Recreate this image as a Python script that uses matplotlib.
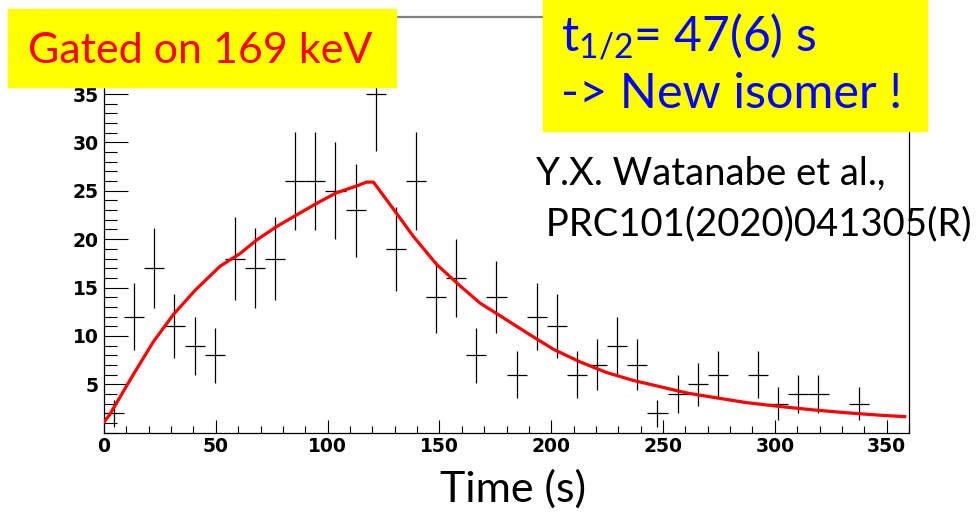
import numpy as np
import matplotlib
matplotlib.use('Agg')
import matplotlib.pyplot as plt
import matplotlib.patches as ptc
from matplotlib.ticker import MultipleLocator, FixedLocator

# histogram: counts per 9 s bin, 0 -> 360 s
bin_width = 9
counts = [2, 12, 17, 11, 9, 8, 18, 17, 18, 26,
          26, 25, 23, 35, 19, 26, 14, 16, 8, 14,
          6, 12, 11, 6, 7, 9, 7, 2, 4, 5,
          6, 0, 6, 3, 4, 4, 0, 3, 0, 0]

# fitted growth + decay curve
fit_t = [0, 2.4, 13.1, 22.1, 31.0, 40.7, 51.9, 60.8, 68.2, 77.2,
         86.1, 95.1, 104.0, 113.0, 117.5, 120.5, 130.1, 138.3, 148.7, 159.1,
         168.1, 177.0, 189.2, 201.1, 213.0, 224.9, 236.6, 248.6, 260.5, 272.4,
         287.3, 302.2, 317.1, 332.0, 346.9, 358.1]
fit_y = [1.1, 1.8, 6.0, 9.4, 12.2, 14.7, 17.2, 18.5, 19.9, 21.3,
         22.5, 23.7, 24.8, 25.5, 25.9, 25.9, 22.9, 20.3, 17.4, 15.2,
         13.4, 12.1, 10.3, 8.6, 7.3, 6.2, 5.4, 4.75, 4.1, 3.65,
         3.1, 2.7, 2.35, 2.05, 1.8, 1.65]

x_ticks = [0, 50, 100, 150, 200, 250, 300, 350]
y_ticks = [5, 10, 15, 20, 25, 30, 35]

plt.rcParams['font.family'] = ['Lato', 'DejaVu Sans']
plt.rcParams['mathtext.fontset'] = 'custom'
plt.rcParams['mathtext.rm'] = 'Lato'
plt.rcParams['mathtext.it'] = 'Lato'

W, H = 980, 512
def fx(px):
    return px / W
def fy(py):
    return 1 - py / H

fig = plt.figure(figsize=(W / 100, H / 100), dpi=100)
ax = fig.add_axes([fx(104), fy(432.6), fx(909) - fx(104), fy(16.7) - fy(432.6)])

counts = np.array(counts, dtype=float)
centers = bin_width * (np.arange(len(counts)) + 0.5)
keep = counts > 0
ax.errorbar(centers[keep], counts[keep], yerr=np.sqrt(counts[keep]),
            xerr=bin_width / 2, fmt='none', ecolor='black', elinewidth=0.9,
            capsize=0, zorder=2)

ax.plot(fit_t, fit_y, color='red', lw=2.3, zorder=3)

ax.set_xlim(0, 360)
ax.set_ylim(0, 43)

# ROOT style frame
for s in ['left', 'bottom', 'right']:
    ax.spines[s].set_color('black')
    ax.spines[s].set_linewidth(0.9)
ax.spines['top'].set_color('#808080')
ax.spines['top'].set_linewidth(1.6)

ax.xaxis.set_major_locator(FixedLocator(x_ticks))
ax.xaxis.set_minor_locator(MultipleLocator(10))
ax.yaxis.set_major_locator(FixedLocator(y_ticks))
ax.yaxis.set_minor_locator(MultipleLocator(1))

ax.tick_params(axis='x', which='major', direction='in', length=9.5, width=0.8, pad=3)
ax.tick_params(axis='x', which='minor', direction='in', length=4.8, width=0.8)
ax.tick_params(axis='y', which='major', direction='in', length=17.5, width=0.8, pad=4)
ax.tick_params(axis='y', which='minor', direction='in', length=9, width=0.8)
ax.tick_params(top=False, right=False, which='both')

for lab in ax.get_xticklabels() + ax.get_yticklabels():
    lab.set_fontfamily('DejaVu Sans')
    lab.set_fontweight('bold')
    lab.set_fontsize(13.5)

# yellow boxes on top of the frame
fig.add_artist(ptc.Rectangle((fx(8), fy(86.7)), fx(396) - fx(8), fy(9.3) - fy(86.7),
                             transform=fig.transFigure, color='#ffff00', zorder=5))
fig.add_artist(ptc.Rectangle((fx(543), fy(131)), fx(927) - fx(543), fy(0) - fy(131),
                             transform=fig.transFigure, color='#ffff00', zorder=5))

fig.text(fx(28), fy(63), 'Gated on 169 keV', color='red', fontsize=31,
         ha='left', va='baseline', zorder=6)
fig.text(fx(561), fy(52), r'$\mathregular{t_{1/2}}$= 47(6) s', color='#0000ff',
         fontsize=34.5, ha='left', va='baseline', zorder=6)
fig.text(fx(561), fy(108), '-> New isomer !', color='#0000ff', fontsize=35,
         ha='left', va='baseline', zorder=6)
fig.text(fx(536), fy(185), 'Y.X. Watanabe et al.,', color='black', fontsize=27.5,
         ha='left', va='baseline', zorder=6)
fig.text(fx(536), fy(235), ' PRC101(2020)041305(R)', color='black', fontsize=27.5,
         ha='left', va='baseline', zorder=6)
fig.text(fx(513), fy(502), 'Time (s)', color='black', fontsize=31,
         ha='center', va='baseline', zorder=6)

fig.savefig('out.png', dpi=100)
